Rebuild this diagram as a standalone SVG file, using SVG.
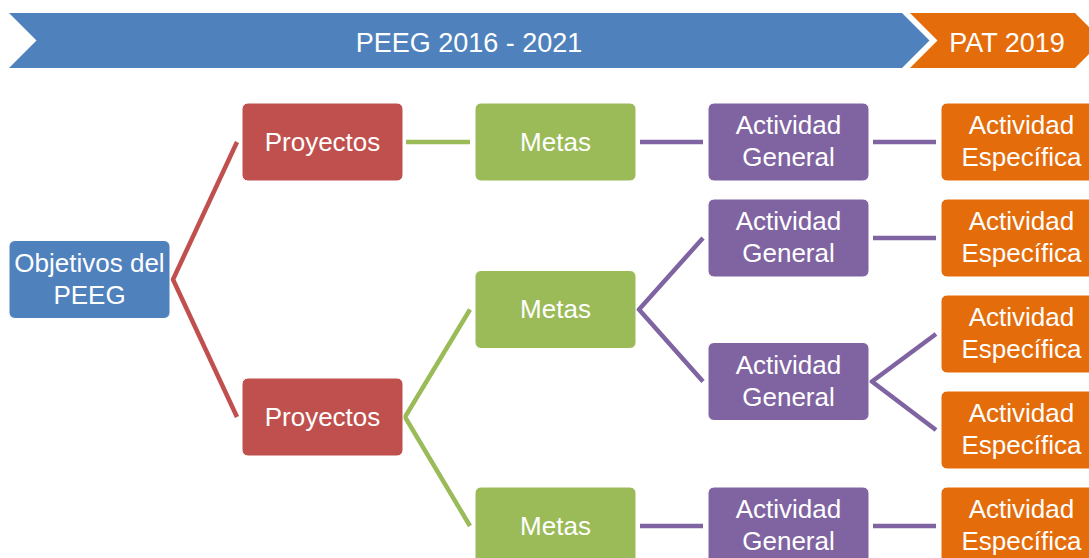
<svg xmlns="http://www.w3.org/2000/svg" width="1089" height="558" viewBox="0 0 1089 558">
<style>
text{font-family:"Liberation Sans",Arial,sans-serif;fill:#fff;text-anchor:middle;font-size:26px}
.t{font-size:27px}
rect{stroke:#fff;stroke-width:1}
.b{fill:#4F81BD}.r{fill:#C0504D}.g{fill:#9BBB59}.p{fill:#8064A2}.o{fill:#E46C0A}
#connectors path{fill:none;stroke-width:4.5;stroke-linejoin:miter}
.cr{stroke:#C0504D}.cg{stroke:#9BBB59}.cp{stroke:#8064A2}
</style>
<g id="banner-peeg">
<polygon class="b" points="9,13 902,13 929.5,40.5 902,68 9,68 36.5,40.5"/>
<text class="t" x="469" y="52">PEEG 2016 - 2021</text>
</g>
<g id="banner-pat">
<polygon class="o" points="910,13 1075,13 1102.5,40.5 1075,68 910,68 937.5,40.5"/>
<text class="t" x="1007" y="52">PAT 2019</text>
</g>
<g id="connectors">
<path class="cr" d="M237,142 L173,279.5 L237,417"/>
<path class="cg" d="M406,142 H470"/>
<path class="cg" d="M470,309.5 L405,417 L470,526"/>
<path class="cp" d="M640,142 H703"/>
<path class="cp" d="M703,238 L639,309.5 L703,381.5"/>
<path class="cp" d="M640,526 H703"/>
<path class="cp" d="M873,142 H936"/>
<path class="cp" d="M873,238 H936"/>
<path class="cp" d="M936,334 L872,381.5 L936,430"/>
<path class="cp" d="M873,526 H936"/>
</g>
<g id="objetivos">
<rect class="b" x="9" y="240.5" width="161" height="78" rx="6"/>
<text x="89.5" y="272">Objetivos del</text>
<text x="89.5" y="303.5">PEEG</text>
</g>
<g id="proyectos1">
<rect class="r" x="242" y="103" width="161" height="78" rx="6"/>
<text x="322.5" y="150.5">Proyectos</text>
</g>
<g id="proyectos2">
<rect class="r" x="242" y="378" width="161" height="78" rx="6"/>
<text x="322.5" y="425.5">Proyectos</text>
</g>
<g id="metas1">
<rect class="g" x="475" y="103" width="161" height="78" rx="6"/>
<text x="555.5" y="150.5">Metas</text>
</g>
<g id="metas2">
<rect class="g" x="475" y="270.5" width="161" height="78" rx="6"/>
<text x="555.5" y="318">Metas</text>
</g>
<g id="metas3">
<rect class="g" x="475" y="487" width="161" height="78" rx="6"/>
<text x="555.5" y="534.5">Metas</text>
</g>
<g id="ag1">
<rect class="p" x="708" y="103" width="161" height="78" rx="6"/>
<text x="788.5" y="134">Actividad</text>
<text x="788.5" y="166">General</text>
</g>
<g id="ag2">
<rect class="p" x="708" y="199" width="161" height="78" rx="6"/>
<text x="788.5" y="230">Actividad</text>
<text x="788.5" y="262">General</text>
</g>
<g id="ag3">
<rect class="p" x="708" y="342.5" width="161" height="78" rx="6"/>
<text x="788.5" y="373.5">Actividad</text>
<text x="788.5" y="405.5">General</text>
</g>
<g id="ag4">
<rect class="p" x="708" y="487" width="161" height="78" rx="6"/>
<text x="788.5" y="518">Actividad</text>
<text x="788.5" y="550">General</text>
</g>
<g id="ae1">
<rect class="o" x="941" y="103" width="161" height="78" rx="6"/>
<text x="1021.5" y="134">Actividad</text>
<text x="1021.5" y="166">Específica</text>
</g>
<g id="ae2">
<rect class="o" x="941" y="199" width="161" height="78" rx="6"/>
<text x="1021.5" y="230">Actividad</text>
<text x="1021.5" y="262">Específica</text>
</g>
<g id="ae3">
<rect class="o" x="941" y="295" width="161" height="78" rx="6"/>
<text x="1021.5" y="326">Actividad</text>
<text x="1021.5" y="358">Específica</text>
</g>
<g id="ae4">
<rect class="o" x="941" y="391" width="161" height="78" rx="6"/>
<text x="1021.5" y="422">Actividad</text>
<text x="1021.5" y="454">Específica</text>
</g>
<g id="ae5">
<rect class="o" x="941" y="487" width="161" height="78" rx="6"/>
<text x="1021.5" y="518">Actividad</text>
<text x="1021.5" y="550">Específica</text>
</g>
</svg>
